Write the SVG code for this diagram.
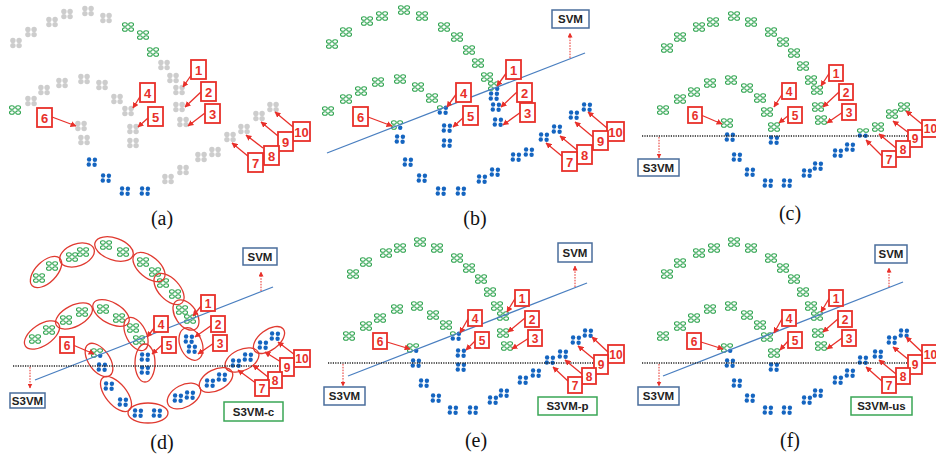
<svg xmlns="http://www.w3.org/2000/svg" width="936" height="462" viewBox="0 0 936 462">
<style>
.lb{fill:#fff;stroke:#e8302a;stroke-width:1.8}
.lt{font-family:"Liberation Sans",Arial,sans-serif;font-weight:bold;fill:#e8302a;text-anchor:middle}
.t13{font-size:13px}.t12{font-size:12px}
.la{stroke:#e8302a;stroke-width:1.3;fill:none;marker-end:url(#ah)}
.sb{fill:#fff;stroke:#4a6d9c;stroke-width:1.5}
.cb{fill:#fff;stroke:#3aa655;stroke-width:1.5}
.bt{font-family:"Liberation Sans",Arial,sans-serif;font-weight:bold;font-size:11.5px;fill:#222;text-anchor:middle}
.hl{stroke:#4a7fc0;stroke-width:1.3;fill:none}
.dl{stroke:#222;stroke-width:1.6;stroke-dasharray:1.2 1.2;fill:none}
.ra{stroke:#e8302a;stroke-width:1;stroke-dasharray:1.6 1.2;fill:none;marker-end:url(#ah2)}
.el{fill:none;stroke:#e03a30;stroke-width:1.3}
.cap{font-family:"Liberation Serif","Times New Roman",serif;font-size:20px;text-anchor:middle;fill:#111}
.gr{fill:none;stroke:#2ba24c;stroke-width:1.05}
</style>
<defs>
<marker id="ah" viewBox="0 0 10 10" refX="9" refY="5" markerWidth="6" markerHeight="6" markerUnits="userSpaceOnUse" orient="auto"><path d="M0,0 L10,5 L0,10 z" fill="#e8302a"/></marker>
<marker id="ah2" viewBox="0 0 10 10" refX="9" refY="5" markerWidth="5" markerHeight="5" markerUnits="userSpaceOnUse" orient="auto"><path d="M0,0 L10,5 L0,10 z" fill="#e8302a"/></marker>
<g id="g"><circle cx="-3.1" cy="-2.5" r="2.7" fill="#cdcdcd"/><circle cx="3.1" cy="-2.5" r="2.7" fill="#cdcdcd"/><circle cx="-3.1" cy="2.6" r="2.7" fill="#cdcdcd"/><circle cx="3.1" cy="2.6" r="2.7" fill="#cdcdcd"/></g>
<g id="G" class="gr"><ellipse cx="-3.1" cy="-2.5" rx="2.4" ry="1.8"/><ellipse cx="3.1" cy="-2.5" rx="2.4" ry="1.8"/><ellipse cx="-3.1" cy="2.5" rx="2.4" ry="1.8"/><ellipse cx="3.1" cy="2.5" rx="2.4" ry="1.8"/></g>
<g id="B" fill="#1565c0"><circle cx="-2.9" cy="-2.5" r="2.2"/><circle cx="2.9" cy="-2.3" r="2.2"/><circle cx="-3.2" cy="2.5" r="2.2"/><circle cx="2.6" cy="2.7" r="2.2"/></g>
<g id="Mg"><g class="gr"><ellipse cx="-3.1" cy="-2.5" rx="2.4" ry="1.8"/><ellipse cx="3.1" cy="-2.5" rx="2.4" ry="1.8"/><ellipse cx="-3.1" cy="2.5" rx="2.4" ry="1.8"/></g><circle cx="3.2" cy="2.7" r="2.2" fill="#1565c0"/></g>
<g id="Mb"><ellipse class="gr" cx="-3.1" cy="-2.5" rx="2.4" ry="1.8"/><g fill="#1565c0"><circle cx="2.9" cy="-2.3" r="2.2"/><circle cx="-3.2" cy="2.5" r="2.2"/><circle cx="2.6" cy="2.7" r="2.2"/></g></g>
<g id="Mh"><g class="gr"><ellipse cx="-3.1" cy="-2.5" rx="2.4" ry="1.8"/><ellipse cx="3.1" cy="-2.5" rx="2.4" ry="1.8"/></g><g fill="#1565c0"><circle cx="-3.2" cy="2.5" r="2.2"/><circle cx="2.6" cy="2.7" r="2.2"/></g></g>
</defs>
<rect width="936" height="462" fill="#fff"/>

<!-- Panel (a) -->
<g id="panel-a">
<g id="a-points">
<use href="#g" x="16" y="43"/><use href="#g" x="31" y="32"/><use href="#g" x="52" y="22"/><use href="#g" x="67" y="14"/><use href="#g" x="88" y="11"/><use href="#g" x="106" y="18"/>
<use href="#G" x="128" y="27"/><use href="#G" x="143" y="35"/><use href="#G" x="153" y="52"/>
<use href="#g" x="164" y="65"/><use href="#g" x="173" y="78"/><use href="#g" x="179" y="90"/><use href="#g" x="179" y="107"/><use href="#g" x="183" y="122"/>
<use href="#G" x="15" y="110"/>
<use href="#g" x="31" y="101"/><use href="#g" x="44" y="90"/><use href="#g" x="62" y="83"/><use href="#g" x="84" y="79"/><use href="#g" x="102" y="85"/><use href="#g" x="117" y="99"/><use href="#g" x="128" y="111"/><use href="#g" x="133" y="129"/><use href="#g" x="133" y="143"/>
<use href="#g" x="81" y="126"/><use href="#g" x="84" y="140"/>
<use href="#B" x="92" y="162"/><use href="#B" x="106" y="178"/><use href="#B" x="125" y="191"/><use href="#B" x="145" y="191"/>
<use href="#g" x="168" y="179"/><use href="#g" x="183" y="170"/><use href="#g" x="201" y="157"/><use href="#g" x="215" y="152"/><use href="#g" x="230" y="137"/><use href="#g" x="244" y="129"/><use href="#g" x="259" y="116"/><use href="#g" x="273" y="107"/>
</g>
<g id="a-connectors">
<line class="la" x1="192" y1="74" x2="183" y2="87"/>
<line class="la" x1="202" y1="91" x2="185" y2="107"/>
<line class="la" x1="205" y1="113" x2="188" y2="126"/>
<line class="la" x1="141" y1="95" x2="133" y2="108"/>
<line class="la" x1="148" y1="118" x2="138" y2="127"/>
<line class="la" x1="52" y1="117" x2="76" y2="126"/>
<line class="la" x1="249" y1="157" x2="232" y2="143"/>
<line class="la" x1="263" y1="148" x2="246" y2="135"/>
<line class="la" x1="278" y1="136" x2="261" y2="122"/>
<line class="la" x1="293" y1="127" x2="275" y2="112"/>
</g>
<g id="a-l1"><rect class="lb" x="191" y="60" width="15" height="19"/><text class="lt t13" x="198.5" y="74.5">1</text></g>
<g id="a-l2"><rect class="lb" x="201" y="82" width="15" height="19"/><text class="lt t13" x="208.5" y="96.5">2</text></g>
<g id="a-l3"><rect class="lb" x="205" y="104" width="15" height="19"/><text class="lt t13" x="212.5" y="118.5">3</text></g>
<g id="a-l4"><rect class="lb" x="140" y="83" width="15" height="19"/><text class="lt t13" x="147.5" y="97.5">4</text></g>
<g id="a-l5"><rect class="lb" x="148" y="107" width="15" height="19"/><text class="lt t13" x="155.5" y="121.5">5</text></g>
<g id="a-l6"><rect class="lb" x="37" y="108" width="15" height="19"/><text class="lt t13" x="44.5" y="122.5">6</text></g>
<g id="a-l10"><rect class="lb" x="293" y="122" width="17" height="19"/><text class="lt t13" x="301.5" y="136.5">10</text></g>
<g id="a-l9"><rect class="lb" x="278" y="132" width="15" height="19"/><text class="lt t13" x="285.5" y="146.5">9</text></g>
<g id="a-l8"><rect class="lb" x="264" y="146" width="15" height="19"/><text class="lt t13" x="271.5" y="160.5">8</text></g>
<g id="a-l7"><rect class="lb" x="248" y="153" width="15" height="19"/><text class="lt t13" x="255.5" y="167.5">7</text></g>
<text class="cap" x="162" y="225">(a)</text>
</g>

<!-- Panel (b) -->
<g id="panel-b">
<g id="b-points">
<use href="#G" x="332" y="44"/><use href="#G" x="346" y="32"/><use href="#G" x="367" y="21"/><use href="#G" x="382" y="16"/><use href="#G" x="404" y="10"/><use href="#G" x="422" y="16"/><use href="#G" x="444" y="27"/><use href="#G" x="457" y="37"/><use href="#G" x="469" y="50"/><use href="#G" x="478" y="63"/><use href="#G" x="487" y="77"/>
<use href="#Mg" x="494" y="86"/><use href="#B" x="494" y="96"/><use href="#B" x="496" y="107"/><use href="#B" x="498" y="122"/>
<use href="#G" x="328" y="111"/><use href="#G" x="346" y="99"/><use href="#G" x="361" y="91"/><use href="#G" x="378" y="82"/><use href="#G" x="400" y="79"/><use href="#G" x="418" y="87"/><use href="#G" x="432" y="98"/>
<use href="#Mb" x="443" y="110"/><use href="#B" x="447" y="128"/><use href="#B" x="447" y="143"/>
<use href="#Mg" x="397" y="125"/><use href="#B" x="400" y="139"/>
<use href="#B" x="408" y="162"/><use href="#B" x="422" y="178"/><use href="#B" x="441" y="191"/><use href="#B" x="461" y="191"/><use href="#B" x="482" y="179"/><use href="#B" x="495" y="172"/><use href="#B" x="516" y="157"/><use href="#B" x="529" y="152"/><use href="#B" x="544" y="137"/><use href="#B" x="557" y="129"/><use href="#B" x="574" y="115"/><use href="#B" x="587" y="107"/>
</g>
<g id="b-connectors">
<line class="hl" x1="327" y1="153" x2="585" y2="53"/>
<line class="ra" x1="570" y1="58" x2="570" y2="33"/>
<line class="la" x1="507" y1="72" x2="497" y2="86"/>
<line class="la" x1="517" y1="92" x2="501" y2="107"/>
<line class="la" x1="521" y1="112" x2="503" y2="125"/>
<line class="la" x1="457" y1="93" x2="447" y2="107"/>
<line class="la" x1="464" y1="117" x2="453" y2="127"/>
<line class="la" x1="368" y1="117" x2="392" y2="126"/>
<line class="la" x1="563" y1="157" x2="546" y2="143"/>
<line class="la" x1="577" y1="150" x2="560" y2="136"/>
<line class="la" x1="593" y1="137" x2="575" y2="122"/>
<line class="la" x1="607" y1="128" x2="588" y2="112"/>
</g>
<g id="b-svm"><rect class="sb" x="552" y="10" width="37" height="18"/><text class="bt" x="570.5" y="23">SVM</text></g>
<g id="b-l1"><rect class="lb" x="506" y="60" width="15" height="19"/><text class="lt t13" x="513.5" y="74.5">1</text></g>
<g id="b-l2"><rect class="lb" x="517" y="83" width="15" height="19"/><text class="lt t13" x="524.5" y="97.5">2</text></g>
<g id="b-l3"><rect class="lb" x="520" y="103" width="15" height="19"/><text class="lt t13" x="527.5" y="117.5">3</text></g>
<g id="b-l4"><rect class="lb" x="456" y="83" width="15" height="19"/><text class="lt t13" x="463.5" y="97.5">4</text></g>
<g id="b-l5"><rect class="lb" x="463" y="106" width="15" height="19"/><text class="lt t13" x="470.5" y="120.5">5</text></g>
<g id="b-l6"><rect class="lb" x="353" y="107" width="15" height="19"/><text class="lt t13" x="360.5" y="121.5">6</text></g>
<g id="b-l10"><rect class="lb" x="607" y="122" width="17" height="19"/><text class="lt t13" x="615.5" y="136.5">10</text></g>
<g id="b-l9"><rect class="lb" x="593" y="131" width="15" height="19"/><text class="lt t13" x="600.5" y="145.5">9</text></g>
<g id="b-l8"><rect class="lb" x="577" y="145" width="15" height="19"/><text class="lt t13" x="584.5" y="159.5">8</text></g>
<g id="b-l7"><rect class="lb" x="562" y="152" width="15" height="19"/><text class="lt t13" x="569.5" y="166.5">7</text></g>
<text class="cap" x="475" y="225">(b)</text>
</g>

<!-- Panel (c) -->
<g id="panel-c">
<g id="c-points">
<use href="#G" x="667" y="48"/><use href="#G" x="680" y="37"/><use href="#G" x="699" y="27"/><use href="#G" x="713" y="22"/><use href="#G" x="734" y="16"/><use href="#G" x="751" y="22"/><use href="#G" x="771" y="32"/><use href="#G" x="783" y="42"/><use href="#G" x="794" y="53"/><use href="#G" x="803" y="66"/><use href="#G" x="811" y="80"/><use href="#G" x="817" y="90"/><use href="#G" x="818" y="107"/><use href="#G" x="821" y="120"/>
<use href="#G" x="663" y="110"/><use href="#G" x="680" y="99"/><use href="#G" x="694" y="92"/><use href="#G" x="710" y="83"/><use href="#G" x="731" y="80"/><use href="#G" x="747" y="88"/><use href="#G" x="760" y="98"/><use href="#G" x="767" y="112"/><use href="#G" x="774" y="127"/><use href="#B" x="774" y="140"/>
<use href="#G" x="727" y="123"/><use href="#B" x="730" y="137"/>
<use href="#B" x="737" y="157"/><use href="#B" x="750" y="172"/><use href="#B" x="768" y="183"/><use href="#B" x="787" y="183"/><use href="#B" x="807" y="173"/><use href="#B" x="818" y="166"/><use href="#B" x="838" y="153"/><use href="#B" x="850" y="147"/>
<use href="#Mh" x="863" y="133"/><use href="#G" x="878" y="127"/><use href="#G" x="892" y="114"/><use href="#G" x="904" y="107"/>
</g>
<g id="c-connectors">
<line class="dl" x1="642" y1="136" x2="920" y2="136"/>
<line class="ra" x1="659" y1="137" x2="659" y2="158"/>
<line class="la" x1="830" y1="72" x2="821" y2="86"/>
<line class="la" x1="839" y1="92" x2="823" y2="107"/>
<line class="la" x1="843" y1="112" x2="827" y2="123"/>
<line class="la" x1="783" y1="93" x2="774" y2="107"/>
<line class="la" x1="789" y1="115" x2="779" y2="123"/>
<line class="la" x1="701" y1="115" x2="722" y2="124"/>
<line class="la" x1="883" y1="157" x2="866" y2="140"/>
<line class="la" x1="896" y1="148" x2="879" y2="134"/>
<line class="la" x1="909" y1="133" x2="893" y2="121"/>
<line class="la" x1="923" y1="125" x2="906" y2="111"/>
</g>
<g id="c-s3vm"><rect class="sb" x="638" y="159" width="41" height="17"/><text class="bt" x="658.5" y="171.5">S3VM</text></g>
<g id="c-l1"><rect class="lb" x="829" y="65" width="14" height="16"/><text class="lt t12" x="836" y="77.5">1</text></g>
<g id="c-l2"><rect class="lb" x="839" y="84" width="14" height="16"/><text class="lt t12" x="846" y="96.5">2</text></g>
<g id="c-l3"><rect class="lb" x="842" y="104" width="14" height="16"/><text class="lt t12" x="849" y="116.5">3</text></g>
<g id="c-l4"><rect class="lb" x="782" y="83" width="14" height="16"/><text class="lt t12" x="789" y="95.5">4</text></g>
<g id="c-l5"><rect class="lb" x="788" y="107" width="14" height="16"/><text class="lt t12" x="795" y="119.5">5</text></g>
<g id="c-l6"><rect class="lb" x="688" y="107" width="14" height="16"/><text class="lt t12" x="695" y="119.5">6</text></g>
<g id="c-l10"><rect class="lb" x="922" y="120" width="17" height="17"/><text class="lt t12" x="930.5" y="133">10</text></g>
<g id="c-l9"><rect class="lb" x="908" y="130" width="14" height="17"/><text class="lt t12" x="915" y="143">9</text></g>
<g id="c-l8"><rect class="lb" x="896" y="141" width="14" height="16"/><text class="lt t12" x="903" y="153.5">8</text></g>
<g id="c-l7"><rect class="lb" x="882" y="151" width="14" height="16"/><text class="lt t12" x="889" y="163.5">7</text></g>
<text class="cap" x="790" y="220">(c)</text>
</g>

<!-- Panel (d) -->
<g id="panel-d">
<g id="d-points">
<use href="#G" x="39" y="278"/><use href="#G" x="52" y="266"/><use href="#G" x="72" y="257"/><use href="#G" x="83" y="252"/><use href="#G" x="106" y="245"/><use href="#G" x="123" y="252"/><use href="#G" x="143" y="262"/><use href="#G" x="155" y="272"/><use href="#G" x="163" y="283"/><use href="#G" x="175" y="294"/><use href="#G" x="182" y="310"/><use href="#G" x="190" y="319"/>
<use href="#B" x="189" y="339"/><use href="#B" x="192" y="349"/>
<use href="#G" x="35" y="339"/><use href="#G" x="49" y="330"/><use href="#G" x="66" y="320"/><use href="#G" x="82" y="312"/><use href="#G" x="103" y="309"/><use href="#G" x="119" y="318"/><use href="#G" x="133" y="328"/><use href="#G" x="139" y="340"/>
<use href="#B" x="145" y="357"/><use href="#B" x="145" y="370"/>
<use href="#Mg" x="97" y="353"/><use href="#B" x="102" y="367"/>
<use href="#B" x="109" y="386"/><use href="#B" x="123" y="402"/><use href="#B" x="138" y="413"/><use href="#B" x="157" y="413"/><use href="#B" x="178" y="398"/><use href="#B" x="190" y="395"/><use href="#B" x="210" y="383"/><use href="#B" x="222" y="377"/><use href="#B" x="236" y="363"/><use href="#B" x="248" y="357"/><use href="#B" x="263" y="345"/><use href="#B" x="275" y="336"/>
</g>
<g id="d-clusters">
<ellipse class="el" cx="46" cy="272" rx="19.5" ry="10.5" transform="rotate(-45 46 272)"/>
<ellipse class="el" cx="77" cy="255" rx="18" ry="11" transform="rotate(-20 77 255)"/>
<ellipse class="el" cx="114" cy="249" rx="20" ry="11" transform="rotate(19 114 249)"/>
<ellipse class="el" cx="149" cy="267" rx="19" ry="10.5" transform="rotate(40 149 267)"/>
<ellipse class="el" cx="169" cy="289" rx="19" ry="10.5" transform="rotate(47 169 289)"/>
<ellipse class="el" cx="186" cy="315" rx="17" ry="10.5" transform="rotate(55 186 315)"/>
<ellipse class="el" cx="191" cy="344" rx="17" ry="11" transform="rotate(68 191 344)"/>
<ellipse class="el" cx="42" cy="335" rx="20" ry="10.5" transform="rotate(-34 42 335)"/>
<ellipse class="el" cx="74" cy="316" rx="20" ry="10.5" transform="rotate(-27 74 316)"/>
<ellipse class="el" cx="111" cy="313" rx="20" ry="10.5" transform="rotate(29 111 313)"/>
<ellipse class="el" cx="136" cy="334" rx="18" ry="10" transform="rotate(63 136 334)"/>
<ellipse class="el" cx="145" cy="363" rx="19" ry="10" transform="rotate(90 145 363)"/>
<ellipse class="el" cx="99" cy="360" rx="19" ry="10.5" transform="rotate(55 99 360)"/>
<ellipse class="el" cx="116" cy="394" rx="21" ry="10.5" transform="rotate(51 116 394)"/>
<ellipse class="el" cx="148" cy="413" rx="20" ry="10"/>
<ellipse class="el" cx="184" cy="396" rx="18" ry="11" transform="rotate(-28 184 396)"/>
<ellipse class="el" cx="216" cy="380" rx="18" ry="10.5" transform="rotate(-27 216 380)"/>
<ellipse class="el" cx="242" cy="360" rx="18" ry="10.5" transform="rotate(-25 242 360)"/>
<ellipse class="el" cx="269" cy="340" rx="18" ry="10" transform="rotate(-37 269 340)"/>
</g>
<g id="d-connectors">
<line class="hl" x1="35" y1="380" x2="273" y2="287"/>
<line class="dl" x1="13" y1="366" x2="290" y2="366"/>
<line class="ra" x1="261" y1="291" x2="261" y2="272"/>
<line class="ra" x1="30" y1="367" x2="30" y2="388"/>
<line class="la" x1="202" y1="305" x2="193" y2="316"/>
<line class="la" x1="212" y1="325" x2="195" y2="337"/>
<line class="la" x1="214" y1="343" x2="198" y2="354"/>
<line class="la" x1="155" y1="327" x2="147" y2="337"/>
<line class="la" x1="162" y1="345" x2="152" y2="354"/>
<line class="la" x1="73" y1="345" x2="94" y2="354"/>
<line class="la" x1="257" y1="384" x2="238" y2="370"/>
<line class="la" x1="268" y1="377" x2="253" y2="365"/>
<line class="la" x1="281" y1="362" x2="265" y2="352"/>
<line class="la" x1="295" y1="355" x2="278" y2="342"/>
</g>
<g id="d-svm"><rect class="sb" x="243" y="248" width="34" height="17"/><text class="bt" x="260" y="260.5">SVM</text></g>
<g id="d-s3vm"><rect class="sb" x="10" y="393" width="35" height="15"/><text class="bt" x="27.5" y="404.5">S3VM</text></g>
<g id="d-s3vmc"><rect class="cb" x="224" y="402" width="59" height="19"/><text class="bt" x="253.5" y="415.5">S3VM-c</text></g>
<g id="d-l1"><rect class="lb" x="201" y="295" width="14" height="16"/><text class="lt t12" x="208" y="307.5">1</text></g>
<g id="d-l2"><rect class="lb" x="211" y="316" width="14" height="16"/><text class="lt t12" x="218" y="328.5">2</text></g>
<g id="d-l3"><rect class="lb" x="213" y="335" width="14" height="16"/><text class="lt t12" x="220" y="347.5">3</text></g>
<g id="d-l4"><rect class="lb" x="154" y="316" width="14" height="16"/><text class="lt t12" x="161" y="328.5">4</text></g>
<g id="d-l5"><rect class="lb" x="162" y="337" width="14" height="16"/><text class="lt t12" x="169" y="349.5">5</text></g>
<g id="d-l6"><rect class="lb" x="60" y="337" width="14" height="16"/><text class="lt t12" x="67" y="349.5">6</text></g>
<g id="d-l10"><rect class="lb" x="294" y="350" width="16" height="17"/><text class="lt t12" x="302" y="363">10</text></g>
<g id="d-l9"><rect class="lb" x="280" y="358" width="14" height="18"/><text class="lt t12" x="287" y="371.5">9</text></g>
<g id="d-l8"><rect class="lb" x="268" y="372" width="14" height="16"/><text class="lt t12" x="275" y="384.5">8</text></g>
<g id="d-l7"><rect class="lb" x="255" y="380" width="14" height="16"/><text class="lt t12" x="262" y="392.5">7</text></g>
<text class="cap" x="162" y="449">(d)</text>
</g>

<!-- Panel (e) -->
<g id="panel-e">
<g id="e-points">
<use href="#G" x="353" y="274"/><use href="#G" x="366" y="262"/><use href="#G" x="386" y="253"/><use href="#G" x="400" y="248"/><use href="#G" x="420" y="242"/><use href="#G" x="437" y="248"/><use href="#G" x="457" y="258"/><use href="#G" x="469" y="268"/><use href="#G" x="481" y="279"/><use href="#G" x="490" y="292"/><use href="#G" x="497" y="306"/><use href="#G" x="503" y="316"/><use href="#G" x="503" y="333"/><use href="#G" x="507" y="346"/>
<use href="#G" x="349" y="336"/><use href="#G" x="366" y="326"/><use href="#G" x="380" y="318"/><use href="#G" x="397" y="309"/><use href="#G" x="417" y="306"/><use href="#G" x="433" y="315"/><use href="#G" x="446" y="325"/>
<use href="#Mb" x="456" y="336"/><use href="#B" x="461" y="353"/><use href="#B" x="461" y="367"/>
<use href="#Mg" x="413" y="348"/><use href="#B" x="416" y="363"/>
<use href="#B" x="424" y="383"/><use href="#B" x="436" y="398"/><use href="#B" x="453" y="410"/><use href="#B" x="473" y="410"/><use href="#B" x="493" y="400"/><use href="#B" x="504" y="393"/><use href="#B" x="523" y="380"/><use href="#B" x="536" y="373"/><use href="#B" x="550" y="360"/><use href="#B" x="563" y="354"/><use href="#B" x="576" y="340"/><use href="#B" x="588" y="333"/>
</g>
<g id="e-connectors">
<line class="hl" x1="348" y1="376" x2="587" y2="283"/>
<line class="dl" x1="328" y1="363" x2="605" y2="363"/>
<line class="ra" x1="575" y1="287" x2="575" y2="266"/>
<line class="ra" x1="343" y1="364" x2="343" y2="386"/>
<line class="la" x1="516" y1="297" x2="507" y2="312"/>
<line class="la" x1="525" y1="318" x2="508" y2="332"/>
<line class="la" x1="529" y1="338" x2="512" y2="349"/>
<line class="la" x1="469" y1="317" x2="460" y2="333"/>
<line class="la" x1="476" y1="340" x2="466" y2="350"/>
<line class="la" x1="387" y1="342" x2="410" y2="349"/>
<line class="la" x1="569" y1="382" x2="553" y2="367"/>
<line class="la" x1="582" y1="374" x2="565" y2="360"/>
<line class="la" x1="595" y1="360" x2="578" y2="346"/>
<line class="la" x1="609" y1="353" x2="592" y2="337"/>
</g>
<g id="e-svm"><rect class="sb" x="558" y="243" width="34" height="19"/><text class="bt" x="575" y="256.5">SVM</text></g>
<g id="e-s3vm"><rect class="sb" x="324" y="387" width="41" height="18"/><text class="bt" x="344.5" y="400">S3VM</text></g>
<g id="e-s3vmp"><rect class="cb" x="538" y="397" width="59" height="18"/><text class="bt" x="567.5" y="410">S3VM-p</text></g>
<g id="e-l1"><rect class="lb" x="515" y="290" width="14" height="16"/><text class="lt t12" x="522" y="302.5">1</text></g>
<g id="e-l2"><rect class="lb" x="525" y="311" width="14" height="16"/><text class="lt t12" x="532" y="323.5">2</text></g>
<g id="e-l3"><rect class="lb" x="528" y="330" width="14" height="16"/><text class="lt t12" x="535" y="342.5">3</text></g>
<g id="e-l4"><rect class="lb" x="468" y="310" width="14" height="16"/><text class="lt t12" x="475" y="322.5">4</text></g>
<g id="e-l5"><rect class="lb" x="475" y="332" width="14" height="16"/><text class="lt t12" x="482" y="344.5">5</text></g>
<g id="e-l6"><rect class="lb" x="373" y="333" width="14" height="16"/><text class="lt t12" x="380" y="345.5">6</text></g>
<g id="e-l10"><rect class="lb" x="608" y="345" width="16" height="18"/><text class="lt t12" x="616" y="358.5">10</text></g>
<g id="e-l9"><rect class="lb" x="594" y="355" width="14" height="19"/><text class="lt t12" x="601" y="369">9</text></g>
<g id="e-l8"><rect class="lb" x="582" y="368" width="14" height="16"/><text class="lt t12" x="589" y="380.5">8</text></g>
<g id="e-l7"><rect class="lb" x="568" y="377" width="14" height="16"/><text class="lt t12" x="575" y="389.5">7</text></g>
<text class="cap" x="476" y="447">(e)</text>
</g>

<!-- Panel (f) -->
<g id="panel-f">
<g id="f-points">
<use href="#G" x="667" y="274"/><use href="#G" x="680" y="263"/><use href="#G" x="699" y="253"/><use href="#G" x="714" y="248"/><use href="#G" x="734" y="242"/><use href="#G" x="751" y="248"/><use href="#G" x="771" y="258"/><use href="#G" x="783" y="268"/><use href="#G" x="794" y="279"/><use href="#G" x="803" y="292"/><use href="#G" x="811" y="306"/><use href="#G" x="817" y="316"/><use href="#G" x="818" y="333"/><use href="#G" x="821" y="346"/>
<use href="#G" x="663" y="336"/><use href="#G" x="680" y="326"/><use href="#G" x="694" y="318"/><use href="#G" x="710" y="309"/><use href="#G" x="731" y="306"/><use href="#G" x="747" y="315"/><use href="#G" x="760" y="325"/><use href="#G" x="767" y="337"/><use href="#G" x="774" y="353"/><use href="#B" x="774" y="367"/>
<use href="#Mg" x="727" y="348"/><use href="#B" x="730" y="363"/>
<use href="#B" x="737" y="383"/><use href="#B" x="750" y="398"/><use href="#B" x="768" y="410"/><use href="#B" x="787" y="410"/><use href="#B" x="807" y="400"/><use href="#B" x="818" y="393"/><use href="#B" x="838" y="380"/><use href="#B" x="850" y="373"/><use href="#B" x="863" y="360"/><use href="#B" x="878" y="354"/><use href="#B" x="892" y="340"/><use href="#B" x="904" y="333"/>
</g>
<g id="f-connectors">
<line class="hl" x1="663" y1="376" x2="903" y2="282"/>
<line class="dl" x1="642" y1="363" x2="918" y2="363"/>
<line class="ra" x1="889" y1="287" x2="889" y2="268"/>
<line class="ra" x1="659" y1="364" x2="659" y2="386"/>
<line class="la" x1="830" y1="297" x2="821" y2="312"/>
<line class="la" x1="839" y1="318" x2="823" y2="332"/>
<line class="la" x1="842" y1="338" x2="827" y2="349"/>
<line class="la" x1="783" y1="317" x2="774" y2="333"/>
<line class="la" x1="789" y1="340" x2="780" y2="350"/>
<line class="la" x1="701" y1="342" x2="723" y2="349"/>
<line class="la" x1="883" y1="382" x2="866" y2="367"/>
<line class="la" x1="896" y1="374" x2="879" y2="360"/>
<line class="la" x1="909" y1="360" x2="893" y2="347"/>
<line class="la" x1="923" y1="353" x2="906" y2="337"/>
</g>
<g id="f-svm"><rect class="sb" x="875" y="245" width="32" height="18"/><text class="bt" x="891" y="258">SVM</text></g>
<g id="f-s3vm"><rect class="sb" x="638" y="387" width="41" height="18"/><text class="bt" x="658.5" y="400">S3VM</text></g>
<g id="f-s3vmus"><rect class="cb" x="851" y="397" width="61" height="18"/><text class="bt" x="881.5" y="410">S3VM-us</text></g>
<g id="f-l1"><rect class="lb" x="829" y="290" width="14" height="16"/><text class="lt t12" x="836" y="302.5">1</text></g>
<g id="f-l2"><rect class="lb" x="838" y="311" width="14" height="16"/><text class="lt t12" x="845" y="323.5">2</text></g>
<g id="f-l3"><rect class="lb" x="842" y="330" width="14" height="16"/><text class="lt t12" x="849" y="342.5">3</text></g>
<g id="f-l4"><rect class="lb" x="782" y="310" width="14" height="16"/><text class="lt t12" x="789" y="322.5">4</text></g>
<g id="f-l5"><rect class="lb" x="788" y="332" width="14" height="16"/><text class="lt t12" x="795" y="344.5">5</text></g>
<g id="f-l6"><rect class="lb" x="687" y="333" width="14" height="16"/><text class="lt t12" x="694" y="345.5">6</text></g>
<g id="f-l10"><rect class="lb" x="922" y="345" width="17" height="18"/><text class="lt t12" x="930.5" y="358.5">10</text></g>
<g id="f-l9"><rect class="lb" x="908" y="355" width="14" height="19"/><text class="lt t12" x="915" y="369">9</text></g>
<g id="f-l8"><rect class="lb" x="896" y="368" width="14" height="16"/><text class="lt t12" x="903" y="380.5">8</text></g>
<g id="f-l7"><rect class="lb" x="882" y="377" width="14" height="16"/><text class="lt t12" x="889" y="389.5">7</text></g>
<text class="cap" x="790" y="447">(f)</text>
</g>
</svg>
